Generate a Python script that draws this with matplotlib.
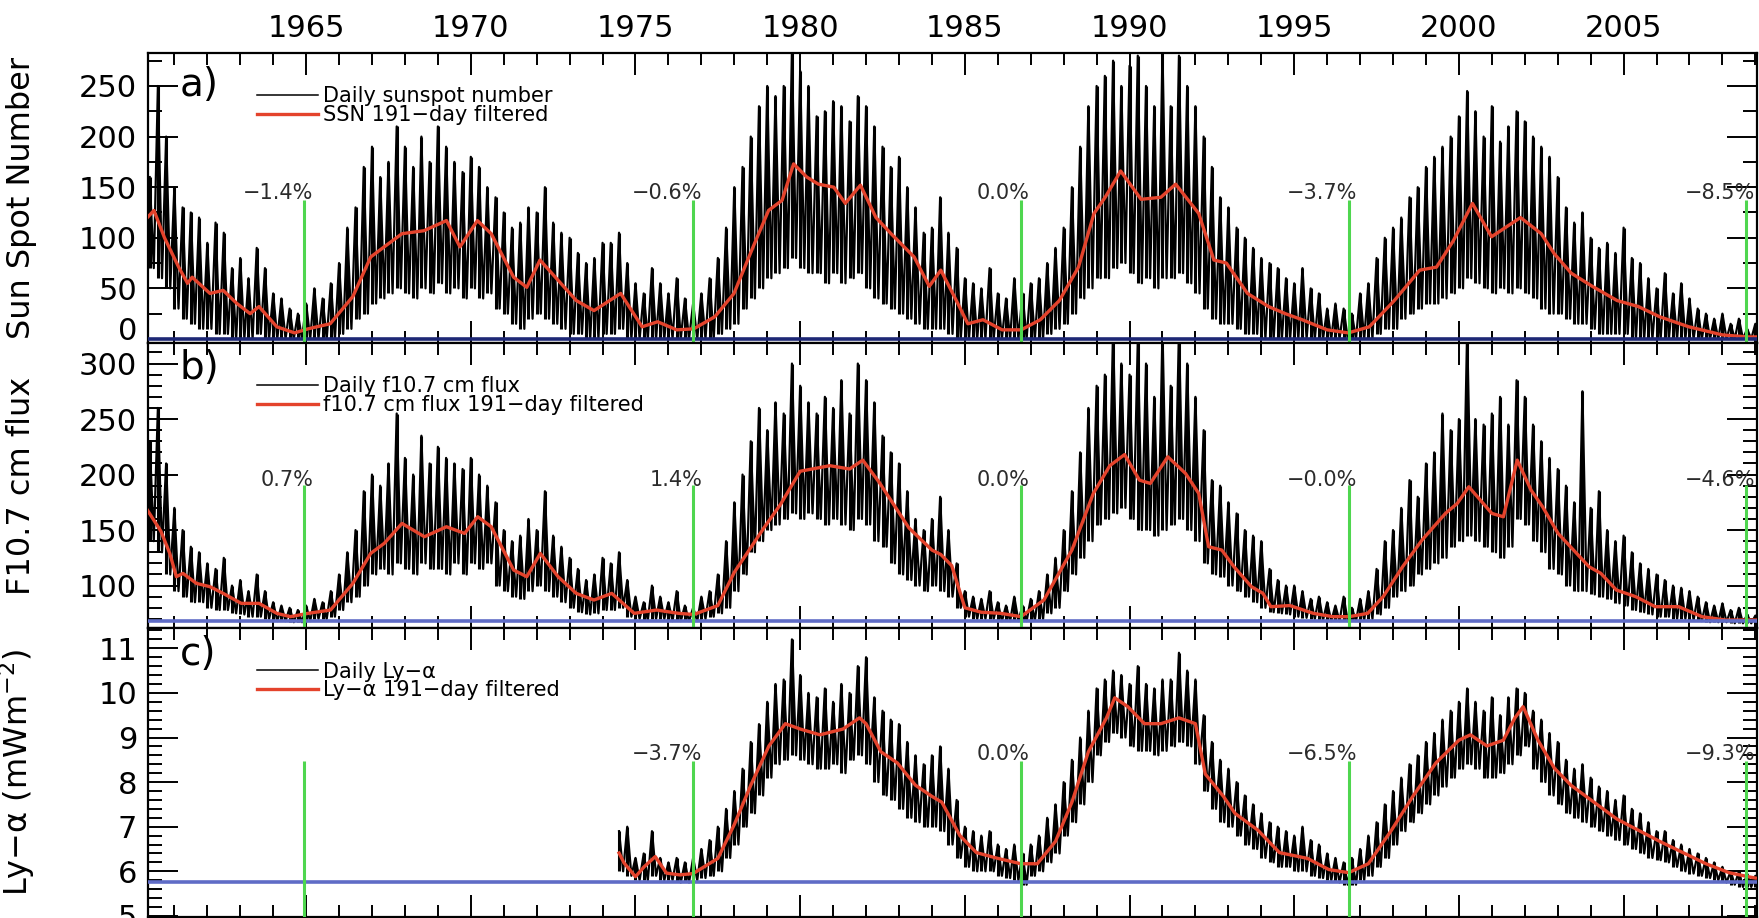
import matplotlib.pyplot as plt
import numpy as np
from matplotlib.ticker import MultipleLocator
from matplotlib.transforms import ScaledTranslation

# Daily records, sampled as quarterly highs / lows (years on a 0.25 grid)
T0_FULL = 1960.25   # first quarter of SSN and F10.7
T0_LYA = 1974.5     # first quarter of the Ly-alpha composite
DT = 0.25

ssn_hi = [
    160, 250, 200,
    150, 130, 125, 120,   # 1961
    95, 115, 105, 70,     # 1962
    80, 60, 90, 70,       # 1963
    45, 40, 30, 25,       # 1964
    35, 50, 40, 55,       # 1965
    75, 110, 130, 170,    # 1966
    190, 160, 175, 210,   # 1967
    190, 170, 200, 175,   # 1968
    210, 190, 175, 165,   # 1969
    180, 170, 150, 140,   # 1970
    125, 110, 115, 130,   # 1971
    125, 150, 115, 105,   # 1972
    100, 85, 75, 80,      # 1973
    95, 95, 105, 75,      # 1974
    55, 45, 70, 55,       # 1975
    45, 60, 40, 35,       # 1976
    45, 60, 80, 110,      # 1977
    150, 170, 200, 230,   # 1978
    250, 240, 250, 285,   # 1979
    265, 250, 220, 225,   # 1980
    235, 230, 215, 240,   # 1981
    230, 210, 190, 170,   # 1982
    180, 150, 130, 105,   # 1983
    110, 140, 105, 90,    # 1984
    60, 55, 50, 70,       # 1985
    45, 40, 60, 45,       # 1986
    55, 60, 75, 90,       # 1987
    110, 150, 190, 230,   # 1988
    250, 260, 275, 250,   # 1989
    270, 280, 250, 230,   # 1990
    285, 230, 280, 250,   # 1991
    230, 200, 170, 140,   # 1992
    130, 110, 100, 90,    # 1993
    80, 75, 70, 60,       # 1994
    55, 70, 50, 45,       # 1995
    30, 35, 30, 25,       # 1996
    45, 55, 80, 100,      # 1997
    110, 120, 140, 150,   # 1998
    170, 180, 190, 200,   # 1999
    220, 245, 225, 200,   # 2000
    230, 195, 210, 225,   # 2001
    215, 200, 190, 180,   # 2002
    160, 130, 115, 125,   # 2003
    100, 90, 95, 85,      # 2004
    110, 80, 75, 60,      # 2005
    50, 65, 45, 55,       # 2006
    40, 30, 25, 20,       # 2007
    25, 15, 20, 10,       # 2008
    15,
]
ssn_lo = [
    70, 60, 50,
    30, 20, 15, 10,
    10, 5, 5, 0,
    0, 0, 5, 0,
    0, 0, 0, 0,
    0, 0, 0, 0,
    5, 10, 20, 25,
    35, 40, 45, 50,
    45, 40, 50, 45,
    55, 45, 50, 40,
    50, 40, 45, 30,
    25, 15, 10, 20,
    25, 20, 15, 10,
    5, 5, 0, 0,
    5, 5, 10, 0,
    0, 0, 0, 0,
    0, 0, 0, 0,
    0, 0, 5, 10,
    15, 30, 40, 50,
    60, 65, 70, 80,
    70, 65, 65, 55,
    65, 55, 60, 65,
    50, 40, 35, 30,
    25, 20, 15, 10,
    10, 10, 5, 0,
    0, 0, 0, 0,
    0, 0, 0, 0,
    0, 0, 5, 10,
    15, 25, 40, 50,
    60, 60, 70, 75,
    65, 55, 60, 50,
    60, 60, 65, 55,
    45, 30, 20, 15,
    15, 10, 5, 5,
    0, 0, 0, 0,
    0, 0, 0, 0,
    0, 0, 0, 0,
    0, 0, 5, 10,
    10, 20, 25, 30,
    35, 35, 40, 45,
    50, 60, 55, 50,
    45, 50, 45, 50,
    45, 40, 30, 25,
    25, 20, 15, 15,
    10, 5, 5, 5,
    5, 0, 0, 0,
    0, 0, 0, 0,
    0, 0, 0, 0,
    0, 0, 0, 0,
    0,
]

f107_hi = [
    230, 260, 210,
    170, 150, 135, 130,   # 1961
    120, 115, 125, 100,   # 1962
    105, 95, 110, 95,     # 1963
    85, 82, 80, 78,       # 1964
    82, 88, 85, 95,       # 1965
    110, 130, 150, 185,   # 1966
    200, 190, 210, 255,   # 1967
    215, 200, 235, 210,   # 1968
    225, 215, 210, 205,   # 1969
    215, 200, 190, 175,   # 1970
    150, 140, 145, 160,   # 1971
    150, 185, 145, 135,   # 1972
    125, 115, 105, 110,   # 1973
    125, 120, 130, 105,   # 1974
    90, 85, 100, 90,      # 1975
    85, 95, 82, 80,       # 1976
    90, 95, 110, 140,     # 1977
    175, 200, 230, 260,   # 1978
    240, 265, 255, 300,   # 1979
    280, 265, 255, 270,   # 1980
    260, 285, 255, 300,   # 1981
    285, 265, 235, 220,   # 1982
    210, 185, 160, 150,   # 1983
    160, 180, 150, 120,   # 1984
    95, 90, 88, 95,       # 1985
    85, 82, 90, 82,       # 1986
    88, 95, 110, 125,     # 1987
    150, 185, 220, 260,   # 1988
    280, 290, 330, 300,   # 1989
    290, 320, 300, 270,   # 1990
    330, 280, 330, 300,   # 1991
    270, 240, 195, 190,   # 1992
    175, 165, 150, 145,   # 1993
    140, 115, 105, 100,   # 1994
    100, 95, 88, 90,      # 1995
    85, 82, 90, 80,       # 1996
    88, 95, 115, 140,     # 1997
    150, 170, 195, 180,   # 1998
    210, 220, 255, 240,   # 1999
    250, 330, 250, 245,   # 2000
    255, 270, 245, 285,   # 2001
    270, 245, 230, 215,   # 2002
    205, 190, 175, 275,   # 2003
    170, 185, 150, 140,   # 2004
    145, 130, 120, 115,   # 2005
    110, 105, 100, 98,    # 2006
    95, 90, 85, 82,       # 2007
    84, 78, 80, 74,       # 2008
    73,
]
f107_lo = [
    140, 130, 110,
    95, 90, 85, 85,
    80, 78, 78, 75,
    74, 72, 72, 70,
    68, 68, 67, 67,
    68, 70, 70, 72,
    78, 85, 90, 100,
    110, 115, 110, 120,
    115, 110, 120, 115,
    115, 110, 120, 110,
    120, 115, 120, 100,
    95, 90, 88, 95,
    100, 95, 90, 85,
    80, 76, 74, 75,
    78, 78, 80, 72,
    70, 69, 70, 70,
    68, 68, 68, 68,
    70, 72, 75, 80,
    95, 110, 130, 140,
    150, 155, 160, 165,
    160, 165, 160, 155,
    160, 155, 150, 160,
    155, 140, 135, 120,
    110, 105, 100, 95,
    100, 95, 90, 80,
    72, 70, 70, 70,
    68, 68, 68, 68,
    69, 70, 75, 80,
    95, 110, 125, 140,
    155, 160, 165, 170,
    160, 150, 150, 145,
    150, 155, 160, 150,
    140, 120, 110, 108,
    100, 95, 90, 85,
    80, 76, 75, 74,
    72, 71, 70, 69,
    68, 68, 68, 68,
    69, 70, 74, 80,
    90, 95, 100, 110,
    115, 120, 125, 135,
    140, 145, 140, 135,
    130, 125, 135, 160,
    155, 140, 130, 115,
    110, 100, 95, 95,
    92, 90, 88, 84,
    82, 78, 76, 74,
    72, 72, 70, 70,
    69, 68, 67, 67,
    67, 66, 66, 66,
    66,
]

lya_hi = [
    6.9, 7.0,
    6.3, 6.4, 6.9, 6.3,      # 1975
    6.2, 6.3, 6.2, 6.3,      # 1976
    6.5, 6.7, 7.0, 7.4,      # 1977
    7.8, 8.3, 8.9, 9.3,      # 1978
    9.8, 10.2, 10.3, 11.2,   # 1979
    10.4, 10.0, 9.9, 10.1,   # 1980
    9.8, 10.2, 10.0, 10.6,   # 1981
    10.8, 9.9, 9.6, 9.4,     # 1982
    9.3, 8.9, 8.6, 8.4,      # 1983
    8.6, 8.8, 8.3, 7.6,      # 1984
    7.0, 6.9, 6.8, 6.9,      # 1985
    6.6, 6.5, 6.6, 6.4,      # 1986
    6.6, 6.8, 7.2, 7.5,      # 1987
    8.0, 8.5, 9.0, 9.6,      # 1988
    10.1, 10.3, 10.5, 10.4,  # 1989
    10.2, 10.6, 10.2, 10.1,  # 1990
    10.3, 10.3, 10.9, 10.5,  # 1991
    10.3, 9.5, 8.9, 8.5,     # 1992
    8.3, 8.0, 7.7, 7.5,      # 1993
    7.3, 7.1, 7.0, 6.9,      # 1994
    6.8, 7.0, 6.7, 6.6,      # 1995
    6.4, 6.3, 6.2, 6.3,      # 1996
    6.5, 6.8, 7.1, 7.5,      # 1997
    7.8, 8.1, 8.4, 8.6,      # 1998
    8.9, 9.1, 9.4, 9.6,      # 1999
    9.8, 10.1, 9.8, 9.6,     # 2000
    9.9, 9.5, 9.9, 10.1,     # 2001
    10.0, 9.6, 9.4, 9.1,     # 2002
    8.9, 8.5, 8.3, 8.4,      # 2003
    8.1, 7.9, 7.8, 7.6,      # 2004
    7.7, 7.4, 7.3, 7.1,      # 2005
    6.9, 6.9, 6.7, 6.6,      # 2006
    6.5, 6.4, 6.3, 6.2,      # 2007
    6.1, 6.0, 6.0, 5.95,     # 2008
    5.9,
]
lya_lo = [
    6.0, 5.9,
    5.8, 5.8, 5.9, 5.8,
    5.8, 5.75, 5.75, 5.8,
    5.85, 5.9, 6.0, 6.3,
    6.6, 7.0, 7.3, 7.7,
    8.1, 8.4, 8.5, 8.6,
    8.5, 8.4, 8.3, 8.3,
    8.4, 8.2, 8.5, 8.6,
    8.4, 8.0, 7.7, 7.6,
    7.4, 7.2, 7.1, 7.0,
    7.0, 6.9, 6.6, 6.3,
    6.1, 6.0, 6.0, 6.0,
    5.9, 5.85, 5.8, 5.7,
    5.9, 6.0, 6.2, 6.4,
    6.8, 7.1, 7.5, 8.0,
    8.6, 8.9, 9.1, 9.0,
    8.8, 8.7, 8.7, 8.6,
    8.7, 8.8, 8.9, 8.8,
    8.4, 7.8, 7.4, 7.1,
    7.0, 6.8, 6.6, 6.5,
    6.3, 6.2, 6.1, 6.1,
    6.0, 6.0, 5.9, 5.85,
    5.8, 5.75, 5.7, 5.7,
    5.8, 5.9, 6.1, 6.3,
    6.6, 6.9, 7.1, 7.3,
    7.5, 7.7, 7.9, 8.1,
    8.3, 8.4, 8.3, 8.1,
    8.1, 8.2, 8.4, 8.6,
    8.8, 8.3, 8.0, 7.7,
    7.5, 7.3, 7.2, 7.1,
    7.0, 6.9, 6.8, 6.7,
    6.6, 6.5, 6.4, 6.3,
    6.25, 6.2, 6.1, 6.0,
    5.95, 5.9, 5.85, 5.8,
    5.75, 5.7, 5.65, 5.65,
    5.65,
]

# 191-day filtered series
ssn_red_yr = [1960.18, 1960.38, 1960.7, 1961.13, 1961.4, 1961.54, 1962.08, 1962.48, 1962.9,
              1963.3, 1963.57, 1964.11, 1964.65, 1965.06, 1965.73, 1966.42, 1966.96, 1967.37,
              1967.91, 1968.58, 1969.26, 1969.67, 1970.2, 1970.62, 1971.3, 1971.7, 1972.1,
              1972.65, 1973.2, 1973.74, 1974.55, 1975.2, 1975.67, 1976.25, 1976.77, 1977.41,
              1977.99, 1978.57, 1979.04, 1979.45, 1979.8, 1980.2, 1980.55, 1981.02, 1981.37,
              1981.83, 1982.3, 1982.76, 1983.46, 1983.92, 1984.27, 1984.74, 1985.09, 1985.55,
              1986.13, 1986.71, 1987.29, 1987.87, 1988.45, 1988.92, 1989.26, 1989.73, 1990.35,
              1990.95, 1991.4, 1992.1, 1992.56, 1992.94, 1993.58, 1994.22, 1994.73, 1995.24,
              1996.0, 1996.64, 1997.28, 1998.04, 1998.81, 1999.32, 1999.83, 2000.41, 2000.99,
              2001.87, 2002.5, 2002.9, 2003.41, 2004.05, 2004.8, 2005.45, 2006.09, 2006.98,
              2008.0, 2008.76, 2009.0]
ssn_red = [120, 127, 100, 71, 55, 61, 45, 48, 35,
           25, 32, 12, 6, 10, 15, 42, 81, 91,
           104, 107, 117, 91, 117, 104, 61, 51, 78,
           58, 38, 28, 45, 12, 17, 9, 10, 22,
           45, 91, 127, 137, 173, 160, 153, 150, 134,
           152, 120, 104, 81, 52, 68, 38, 15, 19,
           9, 9, 19, 38, 71, 124, 140, 166, 138,
           140, 153, 124, 78, 75, 45, 32, 25, 19,
           9, 6, 12, 38, 68, 71, 97, 134, 101,
           120, 104, 84, 65, 52, 38, 32, 22, 12,
           4, 2, 2]

f107_red_yr = [1960.18, 1960.59, 1960.86, 1961.06, 1961.26, 1961.67, 1962.08, 1962.48, 1963.03,
               1963.57, 1964.11, 1964.52, 1965.06, 1965.74, 1966.42, 1966.96, 1967.37, 1967.91,
               1968.59, 1969.26, 1969.81, 1970.21, 1970.62, 1971.3, 1971.7, 1972.11, 1972.65,
               1973.2, 1973.74, 1974.28, 1974.96, 1975.64, 1976.31, 1976.77, 1977.5, 1978.0,
               1978.9, 1979.4, 1980.0, 1980.9, 1981.5, 1981.9, 1982.4, 1983.3, 1984.0, 1984.27,
               1984.6, 1985.0, 1985.5, 1986.1, 1986.7, 1987.4, 1988.25, 1988.9, 1989.4, 1989.85,
               1990.3, 1990.63, 1991.16, 1991.7, 1992.1, 1992.4, 1992.8, 1993.17, 1993.7,
               1994.05, 1994.29, 1994.87, 1995.58, 1996.17, 1996.67, 1997.23, 1997.7, 1998.29,
               1998.88, 1999.59, 1999.95, 2000.3, 2000.65, 2001.0, 2001.35, 2001.77, 2002.19,
               2002.54, 2003.01, 2003.48, 2003.95, 2004.31, 2004.78, 2005.37, 2005.96, 2006.67,
               2007.38, 2008.09, 2008.8, 2009.0]
f107_red = [168, 149, 129, 108, 111, 102, 99, 93, 84,
            84, 75, 72, 75, 78, 102, 129, 138, 156,
            144, 153, 147, 162, 153, 114, 108, 129, 108,
            93, 87, 93, 75, 78, 75, 74, 82, 112,
            152, 173, 203, 208, 205, 213, 193, 152, 132, 128,
            118, 80, 76, 75, 72, 87, 132, 183, 208, 218,
            195, 192, 216, 201, 183, 135, 132, 117, 99,
            93, 81, 82, 75, 72, 72, 75, 90, 117,
            141, 165, 174, 189, 177, 165, 162, 213, 186,
            171, 147, 132, 117, 111, 96, 90, 81, 81,
            72, 69, 69, 69]

lya_red_yr = [1974.5, 1974.65, 1975.0, 1975.26, 1975.6, 1975.94, 1976.35, 1976.75, 1977.5,
              1978.0, 1978.5, 1979.05, 1979.55, 1980.0, 1980.6, 1981.3, 1981.8, 1982.0,
              1982.45, 1982.95, 1983.5, 1984.0, 1984.3, 1984.85, 1985.35, 1986.0, 1986.7,
              1987.2, 1987.75, 1988.25, 1988.75, 1989.3, 1989.55, 1989.95, 1990.45, 1990.95,
              1991.5, 1992.0, 1992.3, 1992.85, 1993.2, 1993.9, 1994.55, 1995.4, 1996.05,
              1996.65, 1997.25, 1997.95, 1998.6, 1999.3, 2000.0, 2000.35, 2000.85, 2001.35,
              2001.7, 2001.95, 2002.4, 2002.9, 2003.4, 2004.1, 2004.8, 2005.45, 2006.1,
              2006.8, 2007.5, 2008.2, 2008.85, 2009.0]
lya_red = [6.41, 6.19, 5.88, 6.1, 6.33, 5.96, 5.92, 5.95, 6.29,
           7.05, 7.93, 8.81, 9.31, 9.19, 9.06, 9.19, 9.44, 9.31,
           8.68, 8.43, 7.93, 7.68, 7.55, 6.8, 6.42, 6.29, 6.17,
           6.17, 6.67, 7.55, 8.68, 9.44, 9.89, 9.69, 9.31, 9.31,
           9.44, 9.31, 8.18, 7.68, 7.3, 6.92, 6.42, 6.29, 6.04,
           5.97, 6.17, 6.92, 7.68, 8.43, 8.94, 9.06, 8.81, 8.94,
           9.44, 9.69, 8.94, 8.31, 7.93, 7.55, 7.17, 6.92, 6.67,
           6.42, 6.17, 5.97, 5.87, 5.85]

# Solar minima and the change of each minimum relative to 1986
min_years = [1964.95, 1976.75, 1986.7, 1996.65, 2008.72]
pct_ssn = ['\u22121.4%', '\u22120.6%', '0.0%', '\u22123.7%', '\u22128.5%']
pct_f107 = ['0.7%', '1.4%', '0.0%', '\u22120.0%', '\u22124.6%']
pct_lya = [None, '\u22123.7%', '0.0%', '\u22126.5%', '\u22129.3%']

# minimum reference levels (blue)
base_ssn, base_f107, base_lya = 0.0, 68.3, 5.77

BLACK, RED, GREEN = 'black', '#e4432c', '#4fd64f'
M = '\u2212'


def zigzag(t0, hi, lo):
    t = t0 + DT * np.arange(len(hi))
    x = np.empty(2 * len(t))
    y = np.empty(2 * len(t))
    x[0::2], x[1::2] = t, t + DT / 2
    y[0::2], y[1::2] = hi, lo
    return t, x, y


fig = plt.figure(figsize=(17.59, 9.18), dpi=100)
W, H = 1759.0, 918.0
left, width = 147.7 / W, (1757 - 147.7) / W
ax_a = fig.add_axes([left, 1 - 343 / H, width, 290 / H])
ax_b = fig.add_axes([left, 1 - 628 / H, width, 285 / H])
ax_c = fig.add_axes([left, 1 - 917 / H, width, 289 / H])

panels = [
    dict(ax=ax_a, t0=T0_FULL, hi=ssn_hi, lo=ssn_lo, ryr=ssn_red_yr, rv=ssn_red,
         base=base_ssn, base_col='#1d2775', pct=pct_ssn, ytxt=144.5, gtop=137.6,
         ylim=(-4.0, 282.6), major=50, minor=25, letter='a)', dy=32,
         ylabel='Sun Spot Number',
         labels=('Daily sunspot number', 'SSN 191' + M + 'day filtered')),
    dict(ax=ax_b, t0=T0_FULL, hi=f107_hi, lo=f107_lo, ryr=f107_red_yr, rv=f107_red,
         base=base_f107, base_col='#5f6cc6', pct=pct_f107, ytxt=195.0, gtop=190.6,
         ylim=(61.8, 318.5), major=50, minor=10, letter='b)', dy=25,
         ylabel='F10.7 cm flux',
         labels=('Daily f10.7 cm flux', 'f10.7 cm flux 191' + M + 'day filtered')),
    dict(ax=ax_c, t0=T0_LYA, hi=lya_hi, lo=lya_lo, ryr=lya_red_yr, rv=lya_red,
         base=base_lya, base_col='#5f6cc6', pct=pct_lya, ytxt=8.63, gtop=8.48,
         ylim=(4.976, 11.455), major=1, minor=0.2, letter='c)', dy=26,
         ylabel='Ly' + M + '\u03b1 (mWm$^{-2}$)',
         labels=('Daily Ly' + M + '\u03b1', 'Ly' + M + '\u03b1 191' + M + 'day filtered')),
]

for p in panels:
    ax = p['ax']
    t, x, y = zigzag(p['t0'], p['hi'], p['lo'])
    # quarterly range bars plus the high/low trace give the dense daily band
    ax.vlines(t, p['lo'], p['hi'], color=BLACK, lw=2.2, zorder=2)
    h1, = ax.plot(x, y, color=BLACK, lw=1.6, zorder=2, label=p['labels'][0])
    h2, = ax.plot(p['ryr'], p['rv'], color=RED, lw=2.4, zorder=3, label=p['labels'][1])
    ax.axhline(p['base'], color=p['base_col'], lw=2.6, zorder=4)

    ax.set_xlim(1960.19, 2009.05)
    ax.set_ylim(*p['ylim'])
    ax.vlines(min_years, p['ylim'][0], p['gtop'], color=GREEN, lw=2.2, zorder=5)
    for yr, txt in zip(min_years, p['pct']):
        if txt:
            ax.annotate(txt, (yr, p['ytxt']), xytext=(6.5, 0), textcoords='offset points',
                        ha='right', va='center', fontsize=15, color='#2b2b2b')

    ax.xaxis.set_major_locator(MultipleLocator(5))
    ax.xaxis.set_minor_locator(MultipleLocator(1))
    ax.yaxis.set_major_locator(MultipleLocator(p['major']))
    ax.yaxis.set_minor_locator(MultipleLocator(p['minor']))
    ax.tick_params(which='both', direction='in', top=True, bottom=True, left=True,
                   right=True, width=1.4, labelsize=22, pad=7.5, labelbottom=False)
    ax.tick_params(axis='x', which='major', length=16)
    ax.tick_params(axis='x', which='minor', length=8.5)
    ax.tick_params(axis='y', which='major', length=21.5)
    ax.tick_params(axis='y', which='minor', length=10)
    for s in ax.spines.values():
        s.set_linewidth(1.6)

    ax.set_ylabel(p['ylabel'], fontsize=23)
    ax.yaxis.set_label_coords(-0.0688, 0.5)

    shift = ScaledTranslation(0, -p['dy'] / 100, fig.dpi_scale_trans)
    ax.text(0.0198, 1, p['letter'], transform=ax.transAxes + shift,
            ha='left', va='center', fontsize=28)
    leg_shift = ScaledTranslation(0, -0.335, fig.dpi_scale_trans)
    ax.legend(handles=[h1, h2], loc='upper left', bbox_to_anchor=(0.068, 1),
              bbox_transform=ax.transAxes + leg_shift, frameon=False, fontsize=15,
              handlelength=2.9, handletextpad=0.25, labelspacing=-0.05,
              borderpad=0, borderaxespad=0)
    ax.get_legend().legend_handles[0].set_linewidth(1.1)

ax_a.tick_params(axis='x', labeltop=True, pad=7.5)
ax_a.set_yticks(np.arange(0, 251, 50))
ax_a.set_ylim(-4.0, 282.6)
# lift the "0" label clear of the lower spine
zero = ax_a.yaxis.get_major_ticks()[0].label1
zero.set_transform(zero.get_transform() + ScaledTranslation(0, 0.1, fig.dpi_scale_trans))

fig.savefig('out.png', dpi=100)
